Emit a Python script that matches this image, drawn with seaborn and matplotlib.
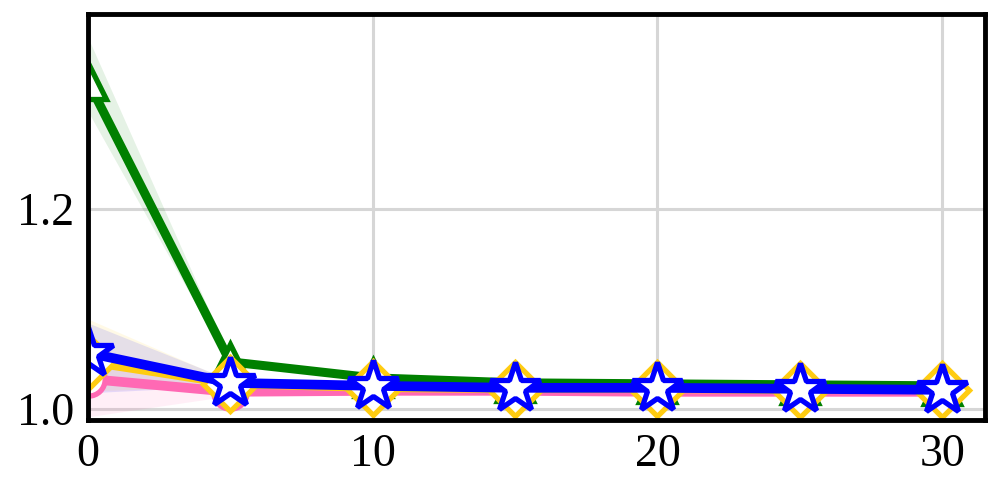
import numpy as np
import pandas as pd
import seaborn as sns
import matplotlib
matplotlib.use("Agg")
import matplotlib.pyplot as plt

steps = [0, 5, 10, 15, 20, 25, 30]

green_mean = [1.328, 1.047, 1.031, 1.026, 1.025, 1.024, 1.023]
green_low = [1.298, 1.043, 1.029, 1.024, 1.023, 1.022, 1.021]
green_high = [1.372, 1.051, 1.033, 1.028, 1.027, 1.026, 1.025]

pink_mean = [1.030, 1.017, 1.018, 1.018, 1.017, 1.017, 1.017]
pink_low = [0.992, 1.013, 1.016, 1.016, 1.015, 1.015, 1.015]
pink_high = [1.045, 1.021, 1.020, 1.020, 1.019, 1.019, 1.019]

gold_mean = [1.047, 1.025, 1.021, 1.020, 1.020, 1.019, 1.019]
gold_low = [1.018, 1.022, 1.019, 1.018, 1.018, 1.017, 1.017]
gold_high = [1.090, 1.028, 1.023, 1.022, 1.022, 1.021, 1.021]

blue_mean = [1.056, 1.026, 1.023, 1.021, 1.021, 1.020, 1.019]
blue_low = [1.016, 1.023, 1.021, 1.019, 1.019, 1.018, 1.017]
blue_high = [1.086, 1.029, 1.025, 1.023, 1.023, 1.022, 1.021]

sns.set_style("white")
plt.rcParams['font.family'] = ['Liberation Serif', 'DejaVu Serif']

fig = plt.figure(figsize=(9.97, 4.98), dpi=100)
ax = fig.add_axes([0.088, 0.157, 0.900, 0.815])

# name, mean, low, high, colour, marker, line width, marker size
series = [
    ("green", green_mean, green_low, green_high, "#008000", "^", 6.5, 26),
    ("pink", pink_mean, pink_low, pink_high, "#ff69b4", "o", 7.0, 24),
    ("gold", gold_mean, gold_low, gold_high, "#ffcc11", "D", 6.0, 27),
    ("blue", blue_mean, blue_low, blue_high, "#0000ff", "*", 7.0, 38),
]

for name, mean, low, high, color, marker, lw, ms in series:
    df = pd.DataFrame({"step": steps, "value": mean})
    ax.fill_between(steps, low, high, color=color, alpha=0.1, linewidth=0)
    sns.lineplot(
        data=df,
        x="step",
        y="value",
        color=color,
        linewidth=lw,
        marker=marker,
        markersize=ms,
        markerfacecolor="white",
        markeredgecolor=color,
        markeredgewidth=3.8,
        ax=ax,
    )

ax.set_xlim(0, 31.5)
ax.set_ylim(0.989, 1.395)
ax.set_xticks([0, 10, 20, 30])
ax.set_yticks([1.0, 1.2])
ax.set_xlabel("")
ax.set_ylabel("")
ax.grid(True, color="#d6d6d6", linewidth=2.2)
ax.tick_params(direction="in", length=11, width=2, labelsize=33, pad=10,
               colors="black")

for spine in ax.spines.values():
    spine.set_color("black")
    spine.set_linewidth(3.5)

plt.savefig("out.png", dpi=100)
